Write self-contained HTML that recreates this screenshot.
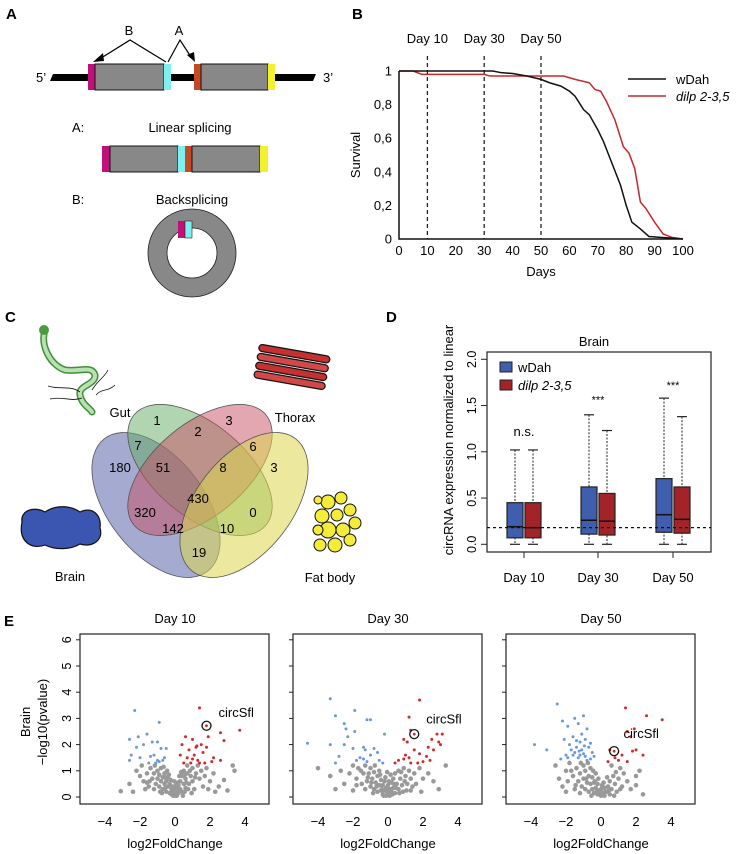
<!DOCTYPE html>
<html><head><meta charset="utf-8"><style>
html,body{margin:0;padding:0;background:#fff}
svg{display:block;font-family:"Liberation Sans",Arial,sans-serif}
</style></head><body>
<svg id="fig" width="744" height="854" viewBox="0 0 744 854" xmlns="http://www.w3.org/2000/svg">
<g>
<text x="6" y="19" font-size="15" font-weight="bold">A</text>
<text x="129" y="35" font-size="13" text-anchor="middle">B</text>
<text x="179" y="35" font-size="13" text-anchor="middle">A</text>
<polyline points="166,62 130,40 98,60" fill="none" stroke="#000" stroke-width="1.2"/>
<polygon points="93,62 103,53 104,61" fill="#000"/>
<polyline points="168,62 180,40 191,57" fill="none" stroke="#000" stroke-width="1.2"/>
<polygon points="195,62 187,55 194,52" fill="#000"/>
<text x="36" y="82" font-size="13">5’</text>
<text x="323" y="82" font-size="13">3’</text>
<polygon points="53,74 316,74 313,81 50,81" fill="#000"/>
<g>
<rect x="88" y="64" width="8" height="26" fill="#c0107a"/><rect x="95" y="64" width="69" height="26" fill="#888" stroke="#111" stroke-width="1"/><rect x="164" y="64" width="7" height="26" fill="#7ff0f0"/></g>
<g>
<rect x="194" y="64" width="7" height="26" fill="#c44a25"/><rect x="201" y="64" width="67" height="26" fill="#888" stroke="#111" stroke-width="1"/><rect x="268" y="64" width="7" height="26" fill="#f3f030"/></g>
<text x="72" y="132" font-size="13">A:</text>
<text x="190" y="132" font-size="13" text-anchor="middle">Linear splicing</text>
<g>
<rect x="102" y="146" width="8" height="26" fill="#c0107a"/><rect x="110" y="146" width="68" height="26" fill="#888" stroke="#111"/><rect x="178" y="146" width="7" height="26" fill="#7ff0f0"/><rect x="185" y="146" width="7" height="26" fill="#c44a25"/><rect x="192" y="146" width="68" height="26" fill="#888" stroke="#111"/><rect x="260" y="146" width="8" height="26" fill="#f3f030"/></g>
<text x="72" y="204" font-size="13">B:</text>
<text x="192" y="204" font-size="13" text-anchor="middle">Backsplicing</text>
<g>
<circle cx="192" cy="253" r="34.5" fill="none" stroke="#888" stroke-width="19"/>
<circle cx="192" cy="253" r="44" fill="none" stroke="#222" stroke-width="0.8"/>
<circle cx="192" cy="253" r="25" fill="none" stroke="#222" stroke-width="0.8"/>
<rect x="178" y="221" width="7" height="17" fill="#c0107a"/><rect x="185" y="221" width="7" height="17" fill="#7ff0f0" stroke="#222" stroke-width="0.6"/></g>
</g>
<g id="pb">
<text x="352" y="19" font-size="15" font-weight="bold">B</text>
</g>
<g>
<text x="5" y="322" font-size="15" font-weight="bold">C</text>
<g>
<path d="M45,330 C40,345 50,365 65,370 C80,372 92,365 95,375 C96,385 78,385 80,395 C82,405 90,408 92,412" fill="none" stroke="#3f8f3a" stroke-width="7" stroke-linecap="round"/>
<path d="M45,330 C40,345 50,365 65,370 C80,372 92,365 95,375 C96,385 78,385 80,395 C82,405 90,408 92,412" fill="none" stroke="#b9e0b0" stroke-width="4" stroke-linecap="round"/>
<circle cx="44" cy="330" r="5" fill="#4c9a40"/>
<path d="M48,386 C60,390 70,385 80,392 M50,399 C62,396 72,402 82,398 M92,390 C98,380 104,378 108,370 M96,395 C102,388 108,392 115,385" fill="none" stroke="#111" stroke-width="0.8"/>
</g>
<g transform="rotate(10 292 367)">
<rect x="256" y="350" width="72" height="7" rx="3.5" fill="#c53030" stroke="#111" stroke-width="1.2"/>
<rect x="256" y="359" width="72" height="7" rx="3.5" fill="#d04848" stroke="#111" stroke-width="1.2"/>
<rect x="256" y="368" width="72" height="7" rx="3.5" fill="#c53030" stroke="#111" stroke-width="1.2"/>
<rect x="256" y="377" width="72" height="7" rx="3.5" fill="#d04848" stroke="#111" stroke-width="1.2"/>
</g>
<text x="120" y="417" font-size="13" text-anchor="middle">Gut</text>
<text x="295" y="422" font-size="13" text-anchor="middle">Thorax</text>
<path d="M22,522 C20,510 35,506 45,512 C55,505 70,505 80,512 C92,506 102,515 100,528 C104,540 92,548 80,544 C70,550 55,550 45,545 C32,550 18,542 22,522 Z" fill="#3a56b0" stroke="#111" stroke-width="1.2"/>
<g fill="#f5ec3a" stroke="#111" stroke-width="1">
<circle cx="328" cy="502" r="7"/><circle cx="341" cy="498" r="6"/><circle cx="322" cy="516" r="7"/><circle cx="337" cy="515" r="6"/><circle cx="350" cy="510" r="6"/><circle cx="355" cy="523" r="6"/><circle cx="328" cy="530" r="8"/><circle cx="343" cy="530" r="7"/><circle cx="318" cy="530" r="5"/><circle cx="335" cy="545" r="7"/><circle cx="350" cy="540" r="6"/><circle cx="320" cy="545" r="6"/><circle cx="318" cy="500" r="4"/></g>
<text x="70" y="581" font-size="13" text-anchor="middle">Brain</text>
<text x="330" y="582" font-size="13" text-anchor="middle">Fat body</text>
<g stroke="#555" stroke-width="0.8">
<ellipse cx="156" cy="505" rx="84" ry="48" transform="rotate(52 156 505)" fill="rgba(90,100,170,0.55)"/>
<ellipse cx="200" cy="470" rx="86" ry="46" transform="rotate(40 200 470)" fill="rgba(100,170,100,0.5)"/>
<ellipse cx="200" cy="470" rx="86" ry="46" transform="rotate(-40 200 470)" fill="rgba(200,80,100,0.5)"/>
<ellipse cx="244" cy="505" rx="84" ry="48" transform="rotate(-52 244 505)" fill="rgba(220,215,80,0.55)"/>
</g>
<g font-size="13" text-anchor="middle">
<text x="157" y="425">1</text><text x="229" y="425">3</text><text x="198" y="436">2</text><text x="138" y="450">7</text><text x="253" y="451">6</text><text x="120" y="472">180</text><text x="163" y="472">51</text><text x="223" y="472">8</text><text x="274" y="472">3</text><text x="198" y="503">430</text><text x="145" y="517">320</text><text x="253" y="517">0</text><text x="173" y="533">142</text><text x="227" y="533">10</text><text x="199" y="557">19</text>
</g>
</g>
<g id="pd">
<text x="386" y="322" font-size="15" font-weight="bold">D</text>
</g>
<g id="pe">
<text x="4" y="626" font-size="15" font-weight="bold">E</text>
</g>
</svg>
<script>
const survDays = [0,10,20,30,40,50,60,70,80,90,100];
const survTicks = [0,0.2,0.4,0.6,0.8,1];
const survTickLabels = ["0","0,2","0,4","0,6","0,8","1"];
const markerDays = [10,30,50];
const wdahDays = [0,33,36,40,45,50,53,57,60,62,65,67,70,72,75,78,80,82,85,88,92,96,100];
const wdahSurv = [1,1,0.99,0.985,0.97,0.95,0.93,0.91,0.88,0.85,0.77,0.74,0.65,0.58,0.45,0.32,0.2,0.1,0.06,0.015,0.01,0.005,0];
const dilpDays = [0,5,8,30,32,58,60,62,67,69,71,73,76,79,81,83,85,87,90,93,96,100];
const dilpSurv = [1,1,0.98,0.98,0.97,0.97,0.96,0.95,0.93,0.89,0.88,0.82,0.71,0.55,0.51,0.42,0.22,0.18,0.1,0.03,0.01,0];

const boxDays = ["Day 10","Day 30","Day 50"];
const boxTicks = [0,0.5,1,1.5,2];
const boxTickLabels = ["0.0","0.5","1.0","1.5","2.0"];
const wdahQ1 = [0.07,0.11,0.13];
const wdahMed = [0.19,0.26,0.32];
const wdahQ3 = [0.45,0.62,0.71];
const wdahMin = [0,0,0];
const wdahMax = [1.02,1.40,1.58];
const dilpQ1 = [0.07,0.10,0.12];
const dilpMed = [0.18,0.25,0.27];
const dilpQ3 = [0.45,0.55,0.62];
const dilpMin = [0,0,0];
const dilpMax = [1.02,1.23,1.38];
const sigLabels = ["n.s.","***","***"];
const sigValues = [1.17,1.52,1.68];
const refLine = 0.18;

const volcTitles = ["Day 10","Day 30","Day 50"];
const volcXTicks = [-4,-2,0,2,4];
const volcYTicks = [0,1,2,3,4,5,6];
const circSfl = [[1.8,2.72],[1.5,2.4],[0.75,1.75]];
const circSflLabelPos = [[3.5,3.25],[3.2,3.0],[2.3,2.45]];
const red10 = [[1.4,3.4],[2.6,2.45],[3.7,2.55],[2.8,2.15],[0.6,2.3],[1.0,2.2],[1.5,2.0],[1.2,1.9],[0.4,2.0],[0.8,1.8],[1.6,1.7],[1.9,2.3],[0.7,1.5],[1.1,1.6],[1.3,1.4],[2.2,1.5],[0.5,1.3],[0.9,1.3],[1.4,1.3],[1.7,1.3],[2.1,1.35],[2.6,1.4],[1.0,1.45],[0.3,1.6],[1.8,1.9],[1.25,1.95]];
const blue10 = [[-2.3,3.3],[-0.9,2.85],[-2.6,2.2],[-2.1,2.3],[-1.6,2.4],[-1.3,2.1],[-1.8,2.0],[-2.2,1.9],[-0.5,1.85],[-0.8,1.85],[-1.0,2.1],[-2.5,1.6],[-2.0,1.5],[-1.2,1.6],[-1.0,1.4],[-0.9,1.35],[-1.1,1.3],[-0.7,1.4],[-1.5,1.3],[-2.6,1.4],[-0.6,1.5],[-1.4,1.55]];
const gray10 = [[-3.1,0.22],[-2.6,0.5],[-2.2,1.0],[-2.0,0.8],[-1.8,0.6],[-1.9,1.2],[-1.6,0.9],[-1.5,0.4],[-1.4,1.1],[-1.3,0.7],[-1.2,0.9],[-1.1,0.5],[-1.0,1.0],[-1.0,0.7],[-0.9,0.4],[-0.9,0.85],[-0.8,0.6],[-0.8,1.1],[-0.7,0.3],[-0.7,0.75],[-0.6,0.5],[-0.6,0.9],[-0.5,0.2],[-0.5,0.6],[-0.4,0.4],[-0.4,0.75],[-0.3,0.15],[-0.3,0.5],[-0.2,0.3],[-0.2,0.1],[-0.1,0.2],[-0.1,0.05],[0,0.1],[0,0.25],[0.1,0.05],[0.1,0.3],[0.2,0.15],[0.2,0.45],[0.3,0.3],[0.3,0.6],[0.4,0.2],[0.4,0.8],[0.5,0.5],[0.5,1.0],[0.6,0.35],[0.6,0.7],[0.7,0.9],[0.7,1.2],[0.8,0.5],[0.9,0.8],[1.0,1.1],[1.0,0.6],[1.2,0.9],[1.3,1.2],[1.4,0.7],[1.5,1.0],[1.7,0.8],[1.8,1.1],[2.0,0.6],[2.2,0.9],[2.5,0.4],[2.8,0.65],[3.0,0.25],[3.4,1.0],[3.3,1.2],[-2.4,0.2],[-1.7,0.3],[1.9,0.3],[2.3,0.2],[-0.45,1.0],[0.45,0.05],[-0.15,0.4],[0.15,0.55],[-0.35,0.85],[0.35,0.95],[-0.25,0.65],[0.25,0.8],[-0.55,0.35],[0.55,0.2],[-0.75,0.15],[0.75,0.3],[1.1,0.3],[-1.2,0.3],[0.05,0.45],[-0.05,0.6],[-1.15,1.2],[-0.65,1.15],[0.65,0.55],[0.85,1.0],[1.15,0.75],[-1.45,0.6],[-0.85,0.2],[0.95,0.15],[-0.15,0.2],[0.15,0.15],[0.05,0.05],[-0.05,0.35],[0.55,0.85],[-0.55,0.75],[1.6,0.4],[-1.6,0.55]];
const red30 = [[1.8,3.7],[1.2,3.05],[0.9,2.2],[1.3,2.55],[1.1,2.1],[2.8,2.4],[3.1,2.4],[2.5,2.2],[2.9,2.1],[3.0,2.0],[2.3,1.9],[1.5,1.8],[2.6,1.8],[1.8,1.65],[2.2,1.55],[1.0,1.6],[0.6,1.4],[0.9,1.45],[1.3,1.3],[1.7,1.3],[2.0,1.35],[0.4,1.3],[1.2,1.5],[2.4,1.4]];
const blue30 = [[-3.3,3.75],[-1.9,3.3],[-3.0,3.1],[-2.5,2.8],[-2.4,2.6],[-1.0,2.95],[-1.2,2.95],[-2.3,2.3],[-1.9,2.5],[-0.2,2.4],[-4.6,2.05],[-3.3,2.0],[-2.5,2.0],[-2.0,1.85],[-1.4,1.9],[-1.3,1.8],[-0.8,1.85],[-0.6,1.7],[-1.0,1.6],[-1.6,1.5],[-1.4,1.45],[-2.8,1.55],[-0.5,1.4],[-1.2,1.35],[-0.3,1.3],[-1.8,1.4],[-3.0,1.3]];
const gray30 = [[-4.0,1.1],[-3.3,0.8],[-2.7,1.0],[-2.5,0.5],[-2.2,0.9],[-2.0,1.2],[-1.8,0.7],[-1.7,1.1],[-1.5,0.5],[-1.4,0.9],[-1.3,1.2],[-1.2,0.6],[-1.1,0.9],[-1.0,0.4],[-1.0,1.1],[-0.9,0.7],[-0.8,0.3],[-0.8,0.95],[-0.7,0.55],[-0.6,0.2],[-0.6,0.8],[-0.5,0.45],[-0.5,1.0],[-0.4,0.25],[-0.4,0.65],[-0.3,0.1],[-0.3,0.45],[-0.2,0.25],[-0.2,0.6],[-0.1,0.05],[-0.1,0.35],[0,0.15],[0,0.45],[0.1,0.05],[0.1,0.3],[0.2,0.2],[0.2,0.55],[0.3,0.35],[0.3,0.7],[0.4,0.15],[0.4,0.9],[0.5,0.5],[0.6,0.3],[0.6,1.0],[0.7,0.7],[0.8,0.45],[0.9,1.1],[1.0,0.8],[1.1,0.5],[1.2,1.0],[1.3,0.7],[1.5,0.9],[1.6,0.5],[1.8,1.1],[2.0,0.7],[2.3,0.9],[2.6,0.6],[3.3,1.2],[2.9,0.3],[-3.0,0.3],[-2.0,0.25],[1.9,0.2],[-0.45,0.85],[0.45,0.35],[-0.15,0.75],[0.15,0.85],[-0.65,0.4],[0.65,0.15],[-0.85,0.15],[0.85,0.2],[-1.3,0.3],[1.3,0.25],[0.05,0.6],[-0.05,0.95],[-1.55,1.0],[-1.15,0.75],[-0.75,1.2],[0.75,0.95],[1.05,0.25],[-0.25,0.05],[0.25,0.1],[-0.05,0.2],[0.05,0.3],[-0.35,0.3],[0.35,0.5],[-0.95,0.55],[0.95,0.6],[1.4,0.4],[-1.8,0.45]];
const red50 = [[1.4,3.4],[2.6,3.1],[3.5,2.95],[1.9,2.6],[1.5,2.5],[1.7,2.3],[0.5,1.8],[1.8,1.75],[2.4,1.6],[0.8,1.5],[1.2,1.6],[1.0,1.4],[0.4,1.35],[1.5,1.35],[2.0,1.8]];
const blue50 = [[-2.5,3.55],[-2.2,2.9],[-1.5,3.0],[-1.0,3.1],[-1.3,2.8],[-1.9,2.7],[-0.8,2.6],[-3.8,2.0],[-3.1,1.8],[-2.1,2.2],[-1.6,2.3],[-1.2,2.1],[-0.9,2.2],[-1.8,2.0],[-1.4,1.9],[-1.1,1.8],[-0.7,1.9],[-0.5,1.7],[-1.6,1.6],[-1.3,1.5],[-0.9,1.55],[-0.6,1.45],[-2.0,1.6],[-1.7,1.8],[-1.0,1.65],[-0.4,1.55],[-1.5,1.7],[-1.2,1.6],[-0.8,1.4],[-2.3,1.45],[-1.9,1.5],[-1.1,2.4],[-0.6,2.05],[-1.4,2.15],[-0.95,1.95],[-1.25,1.75]];
const gray50 = [[-2.6,1.2],[-2.4,0.7],[-2.2,0.4],[-2.0,1.0],[-1.9,0.6],[-1.8,1.3],[-1.6,0.8],[-1.5,0.3],[-1.4,1.1],[-1.3,0.6],[-1.2,0.9],[-1.1,0.4],[-1.0,1.2],[-1.0,0.7],[-0.9,0.3],[-0.9,1.0],[-0.8,0.55],[-0.7,0.8],[-0.7,0.2],[-0.6,0.5],[-0.6,1.1],[-0.5,0.3],[-0.5,0.75],[-0.4,0.15],[-0.4,0.55],[-0.3,0.35],[-0.3,0.9],[-0.2,0.1],[-0.2,0.5],[-0.1,0.25],[0,0.05],[0,0.3],[0.1,0.15],[0.2,0.05],[0.2,0.35],[0.3,0.2],[0.4,0.4],[0.5,0.1],[0.5,0.6],[0.6,0.3],[0.7,0.8],[0.8,0.5],[0.9,0.2],[1.0,0.7],[1.2,0.4],[1.3,0.9],[1.5,0.6],[1.7,0.3],[2.0,0.8],[2.2,1.0],[2.4,0.1],[2.0,0.45],[-2.0,0.2],[-1.2,0.15],[1.1,1.1],[0.6,1.2],[-0.15,0.7],[0.15,0.55],[-0.45,1.0],[0.35,0.75],[-1.15,1.3],[-0.75,1.3],[-0.85,0.7],[-1.45,0.45],[-0.25,0.2],[0.25,0.2],[-0.05,0.1],[0.05,0.45],[-0.55,0.05],[0.45,0.25],[0.75,0.05],[-0.35,0.6],[0.85,0.95],[1.1,0.3],[-1.7,1.0]];
const redSets = [red10, red30, red50];
const blueSets = [blue10, blue30, blue50];
const graySets = [gray10, gray30, gray50];

const NS = "http://www.w3.org/2000/svg";
function mk(parent, tag, attrs, txt){
  const e = document.createElementNS(NS, tag);
  for (const k in attrs) e.setAttribute(k, attrs[k]);
  if (txt !== undefined) e.textContent = txt;
  parent.appendChild(e);
  return e;
}

(function(){
  const g = document.getElementById('pb');
  const X = d => 399 + d * 2.84;
  const Y = v => 239 - v * 168;
  markerDays.forEach(d => {
    const l = mk(g, 'line', {x1:X(d), x2:X(d), y1:56, y2:239, stroke:'#222', 'stroke-width':1.3, 'stroke-dasharray':'4,3'});
    
    
    const t = mk(g, 'text', {x:X(d), y:43, 'font-size':13, 'text-anchor':'middle'}, 'Day ' + d);
    
    
  });
  const ax = mk(g, 'polyline', {points:`${X(0)},${Y(1)} ${X(0)},${Y(0)} ${X(100)},${Y(0)}`, fill:'none', stroke:'#111', 'stroke-width':1.5});
  
  
  survTicks.forEach((v,i) => {
    const t = mk(g, 'text', {x:392, y:Y(v)+4.5, 'font-size':13, 'text-anchor':'end'}, survTickLabels[i]);
    
    
  });
  survDays.forEach(d => {
    const t = mk(g, 'text', {x:X(d), y:255, 'font-size':13, 'text-anchor':'middle'}, String(d));
    
    
  });
  const yt = mk(g, 'text', {x:0, y:0, 'font-size':13, 'text-anchor':'middle', transform:'translate(360,155) rotate(-90)'}, 'Survival');
  
  
  const xt = mk(g, 'text', {x:541, y:276, 'font-size':13, 'text-anchor':'middle'}, 'Days');
  
  
  const line = (ds, vs, col, name) => {
    const p = mk(g, 'polyline', {points: ds.map((d,i)=>X(d)+','+Y(vs[i])).join(' '), fill:'none', stroke:col, 'stroke-width':1.5});
    
    
  };
  line(dilpDays, dilpSurv, '#c62828', 'dilp-survival-line');
  line(wdahDays, wdahSurv, '#111', 'wdah-survival-line');
  const l1 = mk(g, 'line', {x1:628, x2:666, y1:79, y2:79, stroke:'#111', 'stroke-width':1.5});
  
  
  const t1 = mk(g, 'text', {x:676, y:84, 'font-size':13}, 'wDah');
  
  
  const l2 = mk(g, 'line', {x1:628, x2:666, y1:96, y2:96, stroke:'#c62828', 'stroke-width':1.5});
  
  
  const t2 = mk(g, 'text', {x:676, y:101, 'font-size':13, 'font-style':'italic'}, 'dilp 2-3,5');
  
  
})();

(function(){
  const g = document.getElementById('pd');
  const Y = v => 544.3 - v * 92.5;
  const cx = [524, 598, 673];
  const box = mk(g, 'rect', {x:487, y:352, width:224, height:200, fill:'none', stroke:'#222', 'stroke-width':1.2});
  
  
  const title = mk(g, 'text', {x:594, y:346, 'font-size':13, 'text-anchor':'middle'}, 'Brain');
  
  
  boxTicks.forEach((v,i) => {
    const tk = mk(g, 'line', {x1:481, x2:487, y1:Y(v), y2:Y(v), stroke:'#222'});
    
    
    const t = mk(g, 'text', {x:0, y:0, 'font-size':12.5, 'text-anchor':'middle', transform:`translate(476,${Y(v)}) rotate(-90)`}, boxTickLabels[i]);
    
    
  });
  const yt = mk(g, 'text', {x:0, y:0, 'font-size':13, 'text-anchor':'middle', transform:'translate(453,440) rotate(-90)'}, 'circRNA expression normalized to linear');
  
  
  const drawBox = (x, q1, med, q3, mn, mx, col, name) => {
    const w = 16;
    const wh = mk(g, 'line', {x1:x, x2:x, y1:Y(mx), y2:Y(mn), stroke:'#222', 'stroke-dasharray':'2,1.5'});
    
    
    [mx, mn].forEach(v => {
      const c = mk(g, 'line', {x1:x-5, x2:x+5, y1:Y(v), y2:Y(v), stroke:'#222', 'stroke-width':1.2});
      
      
    });
    const r = mk(g, 'rect', {x:x-w/2, y:Y(q3), width:w, height:Y(q1)-Y(q3), fill:col, stroke:'#222', 'stroke-width':1.2});
    
    
    const m = mk(g, 'line', {x1:x-w/2, x2:x+w/2, y1:Y(med), y2:Y(med), stroke:'#111', 'stroke-width':1.5});
    
    
  };
  boxDays.forEach((d,i) => {
    drawBox(cx[i]-9, wdahQ1[i], wdahMed[i], wdahQ3[i], wdahMin[i], wdahMax[i], '#3f5eae', 'wdah-' + (i+1));
    drawBox(cx[i]+9, dilpQ1[i], dilpMed[i], dilpQ3[i], dilpMin[i], dilpMax[i], '#a32428', 'dilp-' + (i+1));
    const t = mk(g, 'text', {x:cx[i], y:582, 'font-size':13, 'text-anchor':'middle'}, d);
    
    
    const tk = mk(g, 'line', {x1:cx[i], x2:cx[i], y1:552, y2:558, stroke:'#222'});
    
    
    const s = mk(g, 'text', {x:cx[i], y:Y(sigValues[i]), 'font-size':sigLabels[i]==='n.s.'?13:11, 'text-anchor':'middle'}, sigLabels[i]);
    
    
  });
  const rl = mk(g, 'line', {x1:487, x2:711, y1:Y(refLine), y2:Y(refLine), stroke:'#111', 'stroke-width':1.2, 'stroke-dasharray':'3,3'});
  
  
  const s1 = mk(g, 'rect', {x:500, y:362, width:12, height:10, fill:'#3f5eae', stroke:'#222'});
  
  
  const lt1 = mk(g, 'text', {x:518, y:372, 'font-size':13}, 'wDah');
  
  
  const s2 = mk(g, 'rect', {x:500, y:380, width:12, height:10, fill:'#a32428', stroke:'#222'});
  
  
  const lt2 = mk(g, 'text', {x:518, y:390, 'font-size':13, 'font-style':'italic'}, 'dilp 2-3,5');
  
  
})();

(function(){
  const root = document.getElementById('pe');
  const offs = [0, 213, 426];
  volcTitles.forEach((title, p) => {
    const g = mk(root, 'g', {});
    
    
    const o = offs[p];
    const X = v => 175 + o + v * 17.5;
    const Y = v => 797 - v * 26.2;
    const fr = mk(g, 'rect', {x:80+o, y:634, width:189, height:170, fill:'none', stroke:'#222', 'stroke-width':1.2});
    
    
    const tt = mk(g, 'text', {x:175+o, y:623, 'font-size':13, 'text-anchor':'middle'}, title);
    
    
    volcYTicks.forEach(v => {
      const tk = mk(g, 'line', {x1:76+o, x2:80+o, y1:Y(v), y2:Y(v), stroke:'#222'});
      
      
      if (p === 0) {
        const t = mk(g, 'text', {x:0, y:0, 'font-size':12.5, 'text-anchor':'middle', transform:`translate(71,${Y(v)}) rotate(-90)`}, String(v));
        
        
      }
    });
    volcXTicks.forEach(v => {
      const t = mk(g, 'text', {x:X(v), y:826, 'font-size':13, 'text-anchor':'middle'}, v < 0 ? '\u2212' + Math.abs(v) : String(v));
      
      
    });
    const xt = mk(g, 'text', {x:175+o, y:848, 'font-size':13, 'text-anchor':'middle'}, 'log2FoldChange');
    
    
    graySets[p].forEach(pt => {
      const c = mk(g, 'circle', {cx:X(pt[0]), cy:Y(pt[1]), r:2.3, fill:'#999'});
      
      
    });
    blueSets[p].forEach(pt => {
      const c = mk(g, 'circle', {cx:X(pt[0]), cy:Y(pt[1]), r:1.5, fill:'#6a98dc'});
      
      
    });
    redSets[p].forEach(pt => {
      const c = mk(g, 'circle', {cx:X(pt[0]), cy:Y(pt[1]), r:1.5, fill:'#d42a2a'});
      
      
    });
    const cs = circSfl[p];
    const ring = mk(g, 'circle', {cx:X(cs[0]), cy:Y(cs[1]), r:4.5, fill:'none', stroke:'#111', 'stroke-width':1.3});
    
    
    const dot = mk(g, 'circle', {cx:X(cs[0]), cy:Y(cs[1]), r:1.4, fill:'#d42a2a'});
    
    
    const lp = circSflLabelPos[p];
    const lab = mk(g, 'text', {x:X(lp[0]), y:Y(lp[1])+5, 'font-size':13, 'text-anchor':'middle'}, 'circSfl');
    
    
  });
  const b = mk(root, 'text', {x:0, y:0, 'font-size':13, 'text-anchor':'middle', transform:'translate(30,722) rotate(-90)'}, 'Brain');
  
  
  const yl = mk(root, 'text', {x:0, y:0, 'font-size':13, 'text-anchor':'middle', transform:'translate(47,722) rotate(-90)'}, '\u2212log10(pvalue)');
  
  
})();
</script>
</body></html>
